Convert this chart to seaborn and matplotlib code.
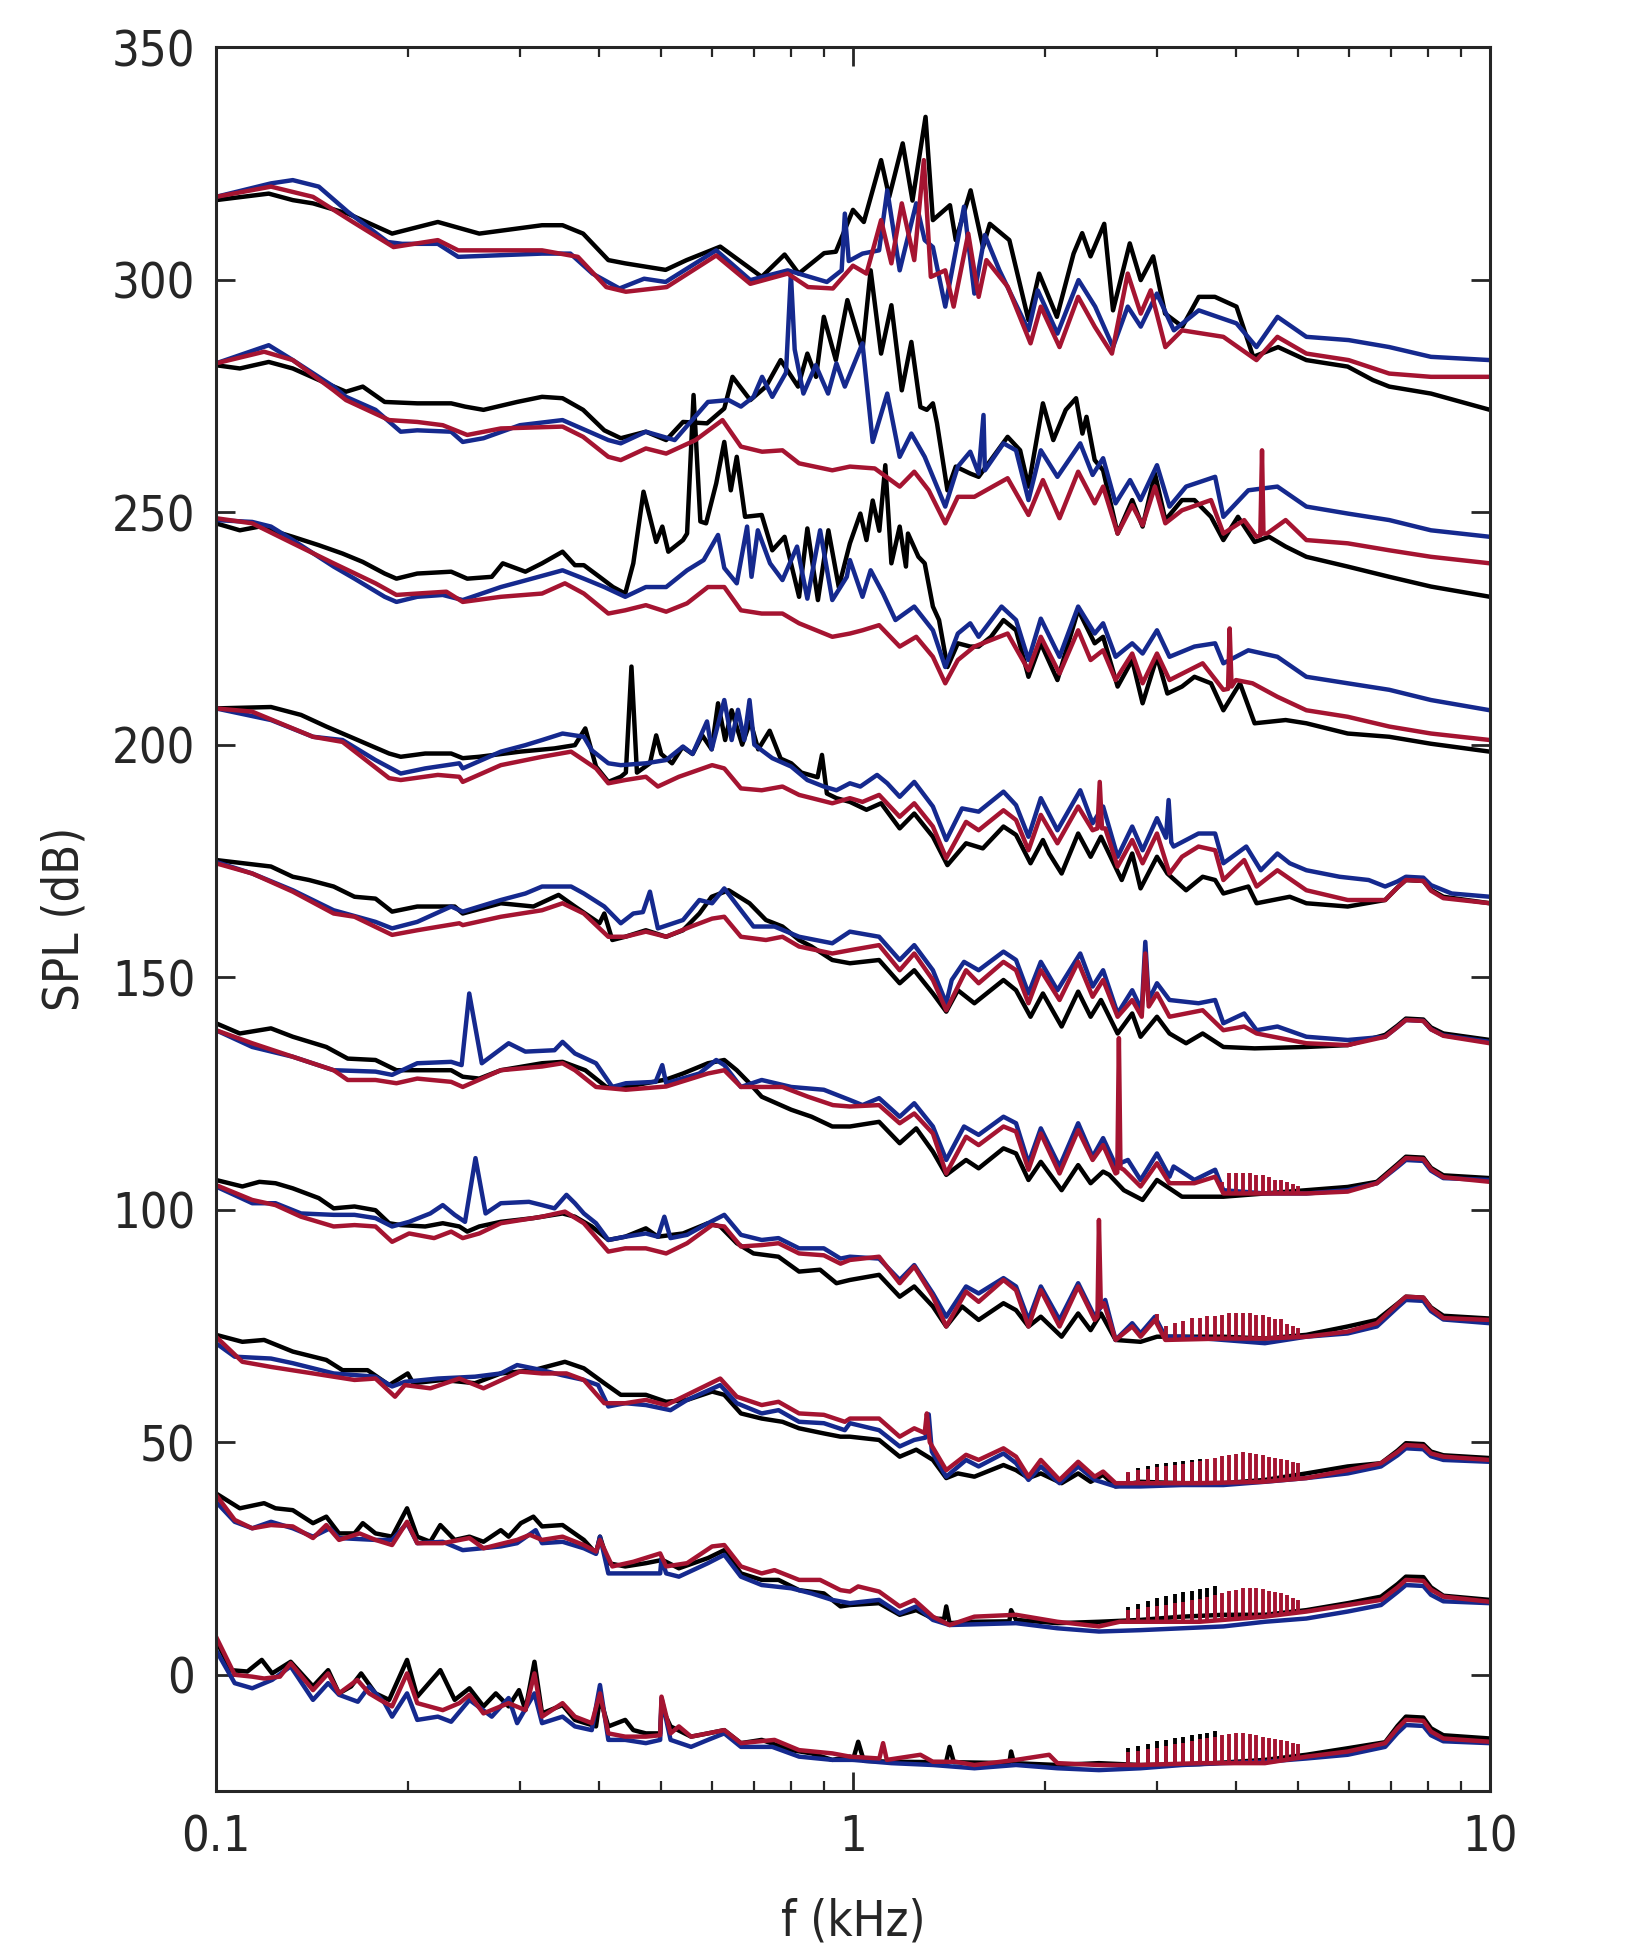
import numpy as np
import pandas as pd
import matplotlib
matplotlib.use("Agg")
import matplotlib.pyplot as plt
import seaborn as sns
from matplotlib.ticker import LogLocator, NullFormatter

# 每条曲线: (f [kHz], SPL [dB]), k=黑 b=蓝 r=红, 数字=从下往上的组号
k10 = [(0.100, 317.1), (0.121, 318.5), (0.132, 317.1), (0.142, 316.4), (0.161, 314.2), (0.189, 309.9), (0.223, 312.4),
       (0.259, 309.9), (0.325, 311.7), (0.350, 311.7), (0.377, 309.9), (0.413, 304.2), (0.439, 303.5), (0.508, 302.1),
       (0.548, 304.2), (0.619, 307.1), (0.719, 300.6), (0.781, 305.4), (0.822, 301.3), (0.901, 305.7), (0.94, 306.0),
       (1.0, 315.0), (1.04, 312.4), (1.107, 325.7), (1.14, 317.8), (1.197, 329.3), (1.24, 317.0), (1.30, 335.0),
       (1.335, 312.8), (1.42, 316.0), (1.45, 308.5), (1.53, 319.2), (1.60, 307.0), (1.64, 312.0), (1.76, 308.5),
       (1.886, 291.3), (1.96, 301.3), (2.09, 292.0), (2.22, 305.6), (2.29, 310.0), (2.36, 305.0), (2.48, 312.0),
       (2.56, 293.4), (2.72, 307.8), (2.83, 299.9), (2.96, 305.0), (3.09, 292.7), (3.29, 289.9), (3.49, 296.3),
       (3.70, 296.3), (4.0, 294.2), (4.25, 283.4), (4.65, 285.5), (5.15, 282.7), (5.98, 281.3), (6.55, 278.4),
       (6.95, 277.0), (8.08, 275.5), (10.0, 272.0)]
b10 = [(0.100, 317.8), (0.122, 320.7), (0.132, 321.4), (0.145, 320.0), (0.161, 314.6), (0.186, 308.1), (0.196, 307.7),
       (0.223, 307.7), (0.24, 304.9), (0.325, 305.6), (0.36, 305.6), (0.39, 301.3), (0.43, 298.1), (0.47, 300.2),
       (0.508, 299.5), (0.61, 306.3), (0.69, 299.9), (0.79, 302.0), (0.91, 299.5), (0.96, 302.0), (0.971, 314.2),
       (0.985, 304.0), (1.035, 305.6), (1.099, 306.3), (1.132, 319.2), (1.184, 302.0), (1.257, 316.4), (1.296, 308.5),
       (1.335, 307.0), (1.396, 294.2), (1.494, 315.7), (1.551, 297.0), (1.611, 309.6), (1.698, 302.0), (1.886, 289.1),
       (1.95, 297.7), (2.094, 288.4), (2.26, 299.9), (2.40, 294.2), (2.56, 285.5), (2.70, 294.2), (2.83, 289.9),
       (3.0, 297.0), (3.19, 289.1), (3.49, 293.4), (4.0, 290.6), (4.30, 285.5), (4.64, 292.0), (5.15, 287.7),
       (6.0, 287.0), (6.95, 285.5), (8.08, 283.4), (10.0, 282.7)]
r10 = [(0.100, 317.8), (0.122, 320.0), (0.142, 317.8), (0.164, 312.4), (0.19, 307.0), (0.223, 308.5), (0.24, 306.3),
       (0.325, 306.3), (0.37, 304.9), (0.41, 298.4), (0.44, 297.4), (0.51, 298.4), (0.61, 305.2), (0.69, 299.1),
       (0.79, 301.3), (0.85, 298.4), (0.93, 298.1), (1.0, 303.0), (1.05, 301.3), (1.107, 312.8), (1.149, 303.5),
       (1.193, 316.4), (1.248, 304.2), (1.292, 325.7), (1.325, 300.6), (1.396, 302.0), (1.439, 294.2), (1.517, 309.9),
       (1.575, 296.3), (1.62, 304.2), (1.749, 298.5), (1.90, 286.3), (1.972, 294.2), (2.11, 285.5), (2.257, 296.3),
       (2.396, 289.9), (2.55, 284.1), (2.70, 301.3), (2.83, 292.7), (2.934, 297.7), (3.093, 285.5), (3.285, 289.1),
       (3.815, 287.7), (4.30, 282.7), (4.638, 287.7), (5.15, 284.1), (6.0, 282.7), (6.95, 279.8), (8.08, 279.1),
       (10.0, 279.1)]

k9 = [(0.100, 281.6), (0.109, 280.9), (0.121, 282.3), (0.132, 280.9), (0.149, 277.7), (0.16, 275.9), (0.17, 277.0),
      (0.184, 273.7), (0.207, 273.4), (0.234, 273.4), (0.246, 272.7), (0.263, 272.0), (0.297, 273.7), (0.325, 274.8),
      (0.35, 274.5), (0.377, 272.0), (0.407, 267.6), (0.432, 265.9), (0.473, 267.3), (0.509, 265.5), (0.541, 269.4),
      (0.59, 269.1), (0.628, 272.3), (0.647, 279.1), (0.69, 274.1), (0.73, 277.0), (0.77, 282.7), (0.82, 277.0),
      (0.848, 284.1), (0.875, 279.1), (0.90, 292.0), (0.94, 282.7), (0.98, 295.6), (1.035, 284.8), (1.066, 302.0),
      (1.107, 284.1), (1.149, 294.5), (1.193, 276.2), (1.235, 286.6), (1.276, 272.6), (1.306, 272.0), (1.335, 273.4),
      (1.355, 269.1), (1.407, 254.7), (1.45, 259.8), (1.528, 258.3), (1.575, 257.6), (1.749, 266.2), (1.83, 263.3),
      (1.886, 255.5), (1.987, 273.4), (2.063, 265.5), (2.158, 272.0), (2.24, 274.5), (2.292, 266.9), (2.326, 270.5),
      (2.396, 261.2), (2.47, 259.0), (2.603, 245.4), (2.744, 252.6), (2.849, 246.9), (2.979, 258.3), (3.093, 248.3),
      (3.285, 252.6), (3.436, 252.6), (3.648, 249.0), (3.815, 244.0), (4.022, 249.0), (4.271, 243.6), (4.501, 244.7),
      (4.778, 242.6), (5.15, 240.4), (5.98, 238.3), (6.95, 236.1), (8.08, 234.0), (10.0, 231.8)]
b9 = [(0.100, 282.0), (0.121, 285.9), (0.132, 282.7), (0.153, 277.0), (0.16, 274.8), (0.178, 272.0), (0.195, 267.3),
      (0.207, 267.6), (0.234, 267.3), (0.244, 265.1), (0.263, 265.9), (0.30, 268.7), (0.35, 269.8), (0.413, 265.5),
      (0.432, 264.8), (0.473, 267.3), (0.525, 265.5), (0.592, 273.7), (0.638, 274.1), (0.667, 272.7), (0.698, 274.8),
      (0.72, 279.1), (0.747, 274.8), (0.785, 280.0), (0.799, 301.3), (0.81, 285.0), (0.836, 275.5), (0.874, 281.6),
      (0.914, 275.5), (0.942, 282.0), (0.971, 277.0), (1.035, 286.3), (1.074, 265.1), (1.132, 275.5), (1.184, 261.9),
      (1.235, 266.9), (1.296, 261.9), (1.396, 251.2), (1.461, 259.8), (1.528, 263.0), (1.575, 258.3), (1.603, 270.9),
      (1.611, 259.0), (1.723, 264.8), (1.803, 263.3), (1.886, 252.6), (1.972, 263.3), (2.094, 257.6), (2.274, 264.8),
      (2.378, 258.0), (2.47, 261.6), (2.584, 251.9), (2.723, 256.9), (2.828, 252.6), (3.001, 260.1), (3.14, 251.2),
      (3.334, 255.5), (3.703, 257.6), (3.815, 249.0), (4.175, 254.7), (4.638, 255.5), (5.15, 251.2), (5.98, 249.7),
      (6.95, 248.3), (8.08, 246.1), (10.0, 244.7)]
r9 = [(0.100, 282.0), (0.119, 284.5), (0.132, 282.7), (0.153, 276.2), (0.16, 274.1), (0.187, 269.8), (0.207, 269.4),
      (0.227, 268.7), (0.248, 266.6), (0.28, 268.0), (0.35, 268.4), (0.377, 266.2), (0.413, 261.9), (0.432, 261.2),
      (0.473, 263.7), (0.509, 262.6), (0.566, 265.5), (0.624, 269.8), (0.667, 264.1), (0.72, 263.0), (0.775, 263.3),
      (0.823, 260.5), (0.928, 259.0), (0.989, 259.8), (1.082, 259.4), (1.184, 255.5), (1.248, 258.7), (1.315, 254.7),
      (1.396, 247.6), (1.461, 253.3), (1.551, 253.3), (1.749, 257.3), (1.886, 249.4), (1.987, 256.9), (2.11, 248.7),
      (2.257, 258.7), (2.396, 251.9), (2.47, 255.5), (2.603, 245.4), (2.744, 251.5), (2.849, 247.2), (2.979, 255.5),
      (3.093, 247.6), (3.285, 250.4), (3.648, 252.6), (3.815, 245.4), (4.113, 248.3), (4.30, 244.7), (4.36, 245.0),
      (4.387, 263.3), (4.41, 245.4), (4.467, 245.4), (4.778, 248.3), (5.15, 244.0), (5.98, 243.3), (6.95, 241.8),
      (8.08, 240.4), (10.0, 239.0)]

k8 = [(0.100, 247.6), (0.109, 246.1), (0.117, 246.9), (0.132, 244.7), (0.145, 242.9), (0.158, 241.1), (0.17, 239.3),
      (0.184, 236.8), (0.192, 235.7), (0.207, 236.8), (0.234, 237.2), (0.248, 235.7), (0.271, 236.1), (0.282, 239.0),
      (0.306, 237.2), (0.325, 239.0), (0.35, 241.5), (0.366, 238.6), (0.378, 238.6), (0.40, 236.1), (0.42, 233.9),
      (0.439, 232.5), (0.452, 239.0), (0.469, 254.4), (0.491, 243.6), (0.502, 246.9), (0.513, 241.5), (0.541, 244.0),
      (0.549, 245.4), (0.562, 275.2), (0.576, 248.0), (0.588, 247.6), (0.61, 256.2), (0.628, 265.1), (0.643, 254.7),
      (0.657, 261.9), (0.677, 249.0), (0.719, 249.4), (0.747, 241.8), (0.781, 244.7), (0.823, 231.8), (0.848, 246.5),
      (0.881, 231.1), (0.915, 246.1), (0.950, 233.9), (0.989, 243.3), (1.027, 249.7), (1.05, 244.0), (1.074, 252.5),
      (1.10, 246.0), (1.124, 260.1), (1.149, 239.0), (1.184, 246.9), (1.211, 238.3), (1.22, 245.4), (1.267, 240.4),
      (1.296, 239.0), (1.335, 229.7), (1.365, 226.8), (1.407, 216.7), (1.461, 221.8), (1.528, 221.1), (1.575, 221.1),
      (1.647, 223.2), (1.723, 226.8), (1.803, 224.6), (1.886, 214.6), (1.972, 221.8), (2.094, 213.9), (2.257, 229.0),
      (2.396, 221.8), (2.47, 223.2), (2.603, 212.5), (2.744, 218.2), (2.849, 208.9), (3.001, 218.9), (3.116, 211.0),
      (3.285, 212.5), (3.436, 214.6), (3.648, 213.2), (3.815, 207.4), (4.051, 213.2), (4.271, 204.6), (4.778, 205.3),
      (5.15, 204.6), (5.98, 202.4), (6.95, 201.7), (8.08, 200.2), (10.0, 198.5)]
b8 = [(0.100, 248.3), (0.114, 247.9), (0.122, 246.9), (0.132, 244.0), (0.153, 238.3), (0.165, 235.7), (0.184, 231.8),
      (0.192, 230.7), (0.207, 231.8), (0.227, 232.2), (0.244, 231.1), (0.28, 233.9), (0.30, 235.0), (0.35, 237.5),
      (0.378, 235.7), (0.407, 233.9), (0.439, 231.8), (0.473, 233.9), (0.509, 233.9), (0.549, 237.5), (0.583, 239.7),
      (0.614, 245.1), (0.628, 238.0), (0.657, 234.7), (0.682, 246.9), (0.693, 236.1), (0.709, 246.1), (0.741, 239.0),
      (0.775, 235.4), (0.817, 242.6), (0.848, 231.4), (0.888, 246.1), (0.928, 231.1), (0.978, 236.1), (0.989, 239.7),
      (1.035, 231.8), (1.066, 237.5), (1.115, 232.5), (1.166, 226.8), (1.248, 229.7), (1.335, 224.6), (1.396, 216.7),
      (1.461, 223.9), (1.528, 226.1), (1.575, 223.2), (1.711, 229.7), (1.803, 226.8), (1.886, 218.2), (1.972, 227.1),
      (2.11, 218.9), (2.257, 229.7), (2.396, 223.9), (2.47, 226.1), (2.584, 218.9), (2.744, 221.8), (2.849, 219.6),
      (3.001, 224.6), (3.14, 218.9), (3.436, 221.1), (3.703, 221.8), (3.815, 217.5), (4.175, 220.3), (4.638, 218.9),
      (5.15, 214.6), (5.98, 213.2), (6.95, 211.8), (8.08, 209.6), (10.0, 207.4)]
r8 = [(0.100, 248.7), (0.114, 247.6), (0.132, 243.3), (0.153, 239.0), (0.178, 234.7), (0.192, 232.2), (0.207, 232.5),
      (0.23, 232.9), (0.244, 230.7), (0.28, 231.8), (0.325, 232.5), (0.353, 234.7), (0.378, 232.5), (0.413, 228.2),
      (0.439, 228.9), (0.473, 230.0), (0.509, 228.6), (0.549, 230.4), (0.592, 233.9), (0.628, 233.9), (0.667, 228.9),
      (0.719, 228.2), (0.775, 228.2), (0.823, 226.1), (0.928, 223.2), (0.989, 223.9), (1.035, 224.6), (1.099, 225.7),
      (1.184, 221.1), (1.257, 223.2), (1.335, 218.9), (1.396, 213.2), (1.461, 218.2), (1.551, 221.1), (1.749, 223.9),
      (1.886, 216.0), (1.972, 223.2), (2.11, 215.3), (2.257, 224.6), (2.361, 218.2), (2.47, 220.3), (2.584, 213.9),
      (2.744, 219.6), (2.849, 213.2), (3.001, 219.6), (3.14, 213.9), (3.54, 217.5), (3.815, 211.8), (3.88, 212.0),
      (3.903, 225.0), (3.93, 212.5), (3.992, 213.9), (4.239, 213.2), (4.638, 210.3), (5.15, 207.4), (5.98, 206.0),
      (6.95, 203.9), (8.08, 202.4), (10.0, 201.0)]

k7 = [(0.100, 207.8), (0.122, 208.1), (0.136, 206.4), (0.149, 203.9), (0.165, 201.3), (0.187, 198.1), (0.195, 197.4),
      (0.213, 198.1), (0.234, 198.1), (0.244, 197.1), (0.259, 197.4), (0.30, 198.5), (0.34, 199.2), (0.366, 199.9),
      (0.38, 203.5), (0.395, 195.3), (0.413, 192.0), (0.432, 193.1), (0.44, 194.0), (0.449, 216.8), (0.458, 194.0),
      (0.48, 196.0), (0.491, 202.0), (0.50, 198.0), (0.52, 196.0), (0.54, 199.5), (0.56, 198.0), (0.58, 202.0),
      (0.60, 199.0), (0.614, 208.9), (0.63, 201.0), (0.645, 207.4), (0.67, 200.0), (0.69, 205.0), (0.71, 199.0),
      (0.74, 203.0), (0.77, 197.0), (0.80, 196.0), (0.83, 194.0), (0.88, 193.0), (0.894, 197.8), (0.91, 189.5),
      (0.942, 188.5), (0.989, 187.7), (1.05, 186.0), (1.107, 187.4), (1.184, 182.0), (1.248, 185.2), (1.335, 180.2),
      (1.407, 174.1), (1.505, 178.8), (1.599, 177.7), (1.723, 182.4), (1.803, 180.6), (1.90, 174.5), (1.987, 179.5),
      (2.032, 176.6), (2.126, 172.3), (2.257, 180.9), (2.361, 175.9), (2.451, 180.2), (2.642, 170.9), (2.744, 176.6),
      (2.828, 169.1), (3.001, 175.9), (3.116, 172.3), (3.334, 168.7), (3.54, 171.6), (3.703, 170.9), (3.815, 168.0),
      (4.175, 169.5), (4.302, 165.9), (4.85, 167.3), (5.15, 165.9), (5.98, 165.2), (6.847, 166.6), (7.16, 169.3),
      (7.38, 170.9), (7.86, 170.7), (8.08, 168.8), (8.45, 167.3), (10.0, 165.9)]
b7 = [(0.100, 207.8), (0.122, 205.3), (0.142, 201.7), (0.158, 201.0), (0.178, 196.7), (0.195, 193.8), (0.213, 194.9),
      (0.241, 196.0), (0.244, 194.9), (0.28, 198.5), (0.306, 199.9), (0.325, 201.0), (0.35, 202.4), (0.378, 201.7),
      (0.389, 198.8), (0.413, 196.0), (0.432, 195.6), (0.473, 196.0), (0.509, 196.7), (0.541, 199.6), (0.56, 198.0),
      (0.59, 205.0), (0.60, 199.0), (0.628, 209.6), (0.645, 201.0), (0.66, 207.5), (0.675, 201.0), (0.688, 209.6),
      (0.70, 200.0), (0.719, 198.8), (0.747, 197.1), (0.80, 195.3), (0.848, 192.4), (0.90, 191.0), (0.942, 190.2),
      (0.989, 191.7), (1.027, 191.0), (1.091, 193.5), (1.132, 191.7), (1.184, 188.8), (1.248, 192.0), (1.335, 186.7),
      (1.401, 179.5), (1.483, 186.3), (1.575, 185.6), (1.723, 189.9), (1.803, 187.0), (1.886, 180.2), (1.972, 188.5),
      (2.094, 181.6), (2.274, 190.2), (2.378, 183.1), (2.47, 186.7), (2.603, 175.9), (2.744, 182.4), (2.849, 177.3),
      (3.001, 184.2), (3.10, 180.0), (3.13, 188.1), (3.16, 179.0), (3.187, 178.1), (3.487, 180.9), (3.703, 180.9),
      (3.815, 174.5), (4.144, 178.1), (4.368, 173.0), (4.638, 176.6), (4.85, 174.5), (5.15, 173.0), (5.806, 171.6),
      (6.45, 170.9), (6.847, 169.5), (7.16, 170.6), (7.38, 171.6), (7.86, 171.4), (8.08, 169.8), (8.708, 168.0),
      (10.0, 167.3)]
r7 = [(0.100, 207.8), (0.114, 207.1), (0.142, 201.7), (0.158, 200.6), (0.187, 192.8), (0.195, 192.4), (0.223, 193.5),
      (0.241, 193.1), (0.244, 192.0), (0.28, 195.6), (0.325, 197.4), (0.361, 198.5), (0.395, 194.9), (0.413, 191.7),
      (0.439, 192.4), (0.473, 193.1), (0.494, 191.0), (0.533, 193.1), (0.601, 195.6), (0.628, 194.9), (0.667, 190.6),
      (0.719, 190.2), (0.775, 191.0), (0.823, 189.2), (0.928, 187.4), (0.989, 188.5), (1.035, 187.7), (1.099, 189.2),
      (1.184, 184.5), (1.248, 187.4), (1.335, 182.4), (1.401, 175.6), (1.505, 183.4), (1.575, 181.6), (1.723, 185.9),
      (1.803, 183.8), (1.886, 177.3), (1.972, 184.9), (2.094, 178.8), (2.257, 186.7), (2.378, 181.6), (2.42, 182.0),
      (2.44, 192.0), (2.46, 182.0), (2.489, 182.0), (2.603, 173.8), (2.744, 179.5), (2.849, 174.5), (3.001, 180.9),
      (3.14, 172.3), (3.285, 175.9), (3.487, 178.1), (3.703, 177.3), (3.815, 170.9), (4.113, 175.2), (4.302, 169.5),
      (4.638, 173.0), (5.15, 168.7), (5.98, 166.6), (6.847, 166.6), (7.16, 169.3), (7.38, 170.9), (7.86, 170.7),
      (8.08, 168.6), (8.45, 167.0), (10.0, 165.9)]

k6 = [(0.100, 175.2), (0.122, 173.8), (0.132, 171.6), (0.14, 170.9), (0.153, 169.5), (0.165, 167.3), (0.178, 166.9),
      (0.189, 164.1), (0.207, 165.2), (0.237, 165.2), (0.244, 163.7), (0.28, 165.9), (0.315, 165.2), (0.345, 167.7),
      (0.366, 165.2), (0.40, 161.6), (0.407, 163.7), (0.419, 158.0), (0.439, 158.7), (0.473, 160.1), (0.509, 158.7),
      (0.541, 160.1), (0.574, 163.7), (0.60, 167.3), (0.638, 168.7), (0.688, 165.9), (0.73, 162.3), (0.775, 160.9),
      (0.823, 158.0), (0.861, 156.6), (0.928, 153.7), (0.989, 153.0), (1.099, 153.7), (1.184, 148.7), (1.248, 151.5),
      (1.335, 146.5), (1.401, 142.6), (1.461, 147.2), (1.551, 144.4), (1.723, 149.4), (1.803, 147.2), (1.90, 141.5),
      (1.987, 146.5), (2.126, 139.4), (2.257, 146.9), (2.361, 141.5), (2.451, 145.1), (2.603, 137.9), (2.744, 142.2),
      (2.828, 137.2), (3.001, 141.5), (3.14, 137.9), (3.334, 135.8), (3.54, 137.9), (3.815, 135.0), (4.271, 134.7),
      (5.15, 135.0), (5.98, 135.4), (6.847, 137.6), (7.16, 139.6), (7.38, 141.1), (7.86, 140.9), (8.08, 139.2),
      (8.45, 137.9), (10.0, 136.5)]
b6 = [(0.100, 174.8), (0.114, 172.3), (0.132, 168.7), (0.153, 164.4), (0.178, 161.9), (0.189, 160.5), (0.207, 161.9),
      (0.234, 165.2), (0.244, 164.1), (0.28, 166.6), (0.306, 168.0), (0.325, 169.5), (0.361, 169.5), (0.378, 168.0),
      (0.407, 165.2), (0.432, 161.6), (0.452, 163.7), (0.468, 164.0), (0.48, 168.4), (0.494, 160.5), (0.541, 162.3),
      (0.574, 166.6), (0.601, 165.9), (0.628, 169.1), (0.667, 164.4), (0.698, 160.9), (0.753, 160.9), (0.823, 158.7),
      (0.928, 157.3), (0.989, 159.8), (1.099, 158.7), (1.184, 153.7), (1.248, 156.9), (1.335, 151.5), (1.401, 144.4),
      (1.429, 149.4), (1.494, 153.3), (1.575, 151.5), (1.723, 155.5), (1.803, 153.7), (1.886, 146.5), (1.972, 153.3),
      (2.094, 147.2), (2.274, 155.1), (2.378, 148.0), (2.47, 151.5), (2.603, 142.2), (2.744, 147.2), (2.84, 142.9),
      (2.877, 157.6), (2.913, 145.1), (3.001, 148.7), (3.14, 145.1), (3.487, 144.4), (3.703, 145.1), (3.815, 140.1),
      (4.113, 142.2), (4.302, 138.6), (4.638, 139.4), (5.15, 137.2), (5.98, 136.5), (6.847, 137.2), (7.16, 139.3),
      (7.38, 140.8), (7.86, 140.6), (8.08, 138.8), (8.45, 137.5), (10.0, 136.1)]
r6 = [(0.100, 174.5), (0.114, 172.3), (0.132, 168.4), (0.153, 163.7), (0.165, 163.0), (0.189, 159.1), (0.207, 160.1),
      (0.241, 161.6), (0.244, 161.2), (0.28, 163.0), (0.325, 164.4), (0.35, 165.9), (0.378, 163.7), (0.413, 158.7),
      (0.439, 158.7), (0.473, 159.8), (0.509, 158.7), (0.557, 160.9), (0.601, 162.6), (0.628, 163.0), (0.667, 158.7),
      (0.73, 158.0), (0.775, 158.7), (0.823, 156.6), (0.928, 155.1), (0.989, 155.8), (1.099, 156.9), (1.184, 151.5),
      (1.248, 155.1), (1.335, 149.4), (1.401, 142.9), (1.505, 151.5), (1.575, 148.7), (1.723, 153.3), (1.803, 151.5),
      (1.886, 144.4), (1.972, 151.5), (2.11, 145.1), (2.257, 153.3), (2.378, 145.8), (2.47, 149.4), (2.603, 141.5),
      (2.744, 145.1), (2.84, 141.5), (2.877, 155.1), (2.913, 143.7), (3.001, 146.5), (3.14, 141.5), (3.54, 142.9),
      (3.815, 138.6), (4.113, 139.4), (4.302, 137.9), (5.15, 135.8), (5.98, 135.4), (6.847, 137.2), (7.16, 139.3),
      (7.38, 140.8), (7.86, 140.6), (8.08, 138.8), (8.45, 137.4), (10.0, 135.8)]

k5 = [(0.100, 140.1), (0.109, 137.9), (0.122, 139.0), (0.132, 137.2), (0.149, 135.0), (0.161, 132.5), (0.178, 132.2),
      (0.192, 130.0), (0.207, 130.0), (0.234, 130.0), (0.244, 128.6), (0.259, 128.2), (0.28, 130.0), (0.325, 131.5),
      (0.35, 131.8), (0.38, 130.0), (0.41, 126.4), (0.44, 126.4), (0.473, 127.2), (0.509, 128.0), (0.541, 129.3),
      (0.592, 131.5), (0.628, 132.2), (0.657, 130.0), (0.688, 127.2), (0.719, 124.3), (0.80, 121.5), (0.861, 120.0),
      (0.928, 117.9), (0.989, 117.9), (1.099, 118.9), (1.184, 114.3), (1.257, 117.5), (1.335, 112.5), (1.401, 107.5),
      (1.505, 110.7), (1.575, 108.9), (1.723, 113.2), (1.803, 112.1), (1.886, 106.4), (1.972, 110.3), (2.126, 104.2),
      (2.257, 109.6), (2.361, 105.7), (2.47, 108.2), (2.526, 107.5), (2.662, 104.2), (2.849, 102.1), (3.001, 106.4),
      (3.285, 102.8), (3.815, 102.8), (4.433, 103.5), (5.15, 104.2), (5.98, 104.9), (6.645, 106.0), (7.16, 109.8),
      (7.38, 111.4), (7.86, 111.2), (8.08, 109.0), (8.45, 107.4), (10.0, 106.8)]
b5 = [(0.100, 138.6), (0.114, 135.0), (0.132, 132.9), (0.153, 130.0), (0.178, 129.7), (0.189, 129.0), (0.207, 131.5),
      (0.234, 131.8), (0.243, 131.1), (0.2498, 146.5), (0.2614, 131.5), (0.288, 135.8), (0.306, 134.0), (0.34, 134.3),
      (0.35, 136.1), (0.366, 133.6), (0.395, 131.5), (0.419, 126.4), (0.44, 127.2), (0.49, 127.5), (0.5019, 131.1),
      (0.509, 127.2), (0.574, 129.3), (0.61, 132.2), (0.628, 131.1), (0.667, 126.4), (0.719, 127.9), (0.80, 126.4),
      (0.90, 125.8), (0.989, 123.6), (1.035, 122.5), (1.099, 124.0), (1.184, 120.0), (1.248, 122.9), (1.335, 117.9),
      (1.401, 110.7), (1.494, 117.9), (1.575, 116.1), (1.723, 120.0), (1.803, 118.6), (1.886, 110.0), (1.972, 117.5),
      (2.11, 109.3), (2.257, 118.6), (2.378, 111.4), (2.47, 115.4), (2.584, 109.6), (2.702, 110.7), (2.828, 106.4),
      (3.001, 112.1), (3.14, 107.1), (3.187, 109.3), (3.436, 106.4), (3.703, 108.6), (3.815, 104.2), (4.433, 103.5),
      (5.15, 103.5), (5.98, 104.2), (6.645, 105.7), (7.16, 109.2), (7.38, 110.7), (7.86, 110.5), (8.08, 108.4),
      (8.45, 106.8), (10.0, 106.4)]
r5 = [(0.100, 138.6), (0.114, 135.8), (0.132, 132.9), (0.153, 130.0), (0.161, 127.9), (0.178, 127.9), (0.192, 127.2),
      (0.207, 128.2), (0.234, 127.5), (0.244, 126.4), (0.28, 130.0), (0.325, 130.8), (0.35, 131.5), (0.366, 130.0),
      (0.395, 126.4), (0.44, 125.8), (0.509, 126.5), (0.592, 129.3), (0.628, 130.0), (0.667, 126.4), (0.775, 126.4),
      (0.85, 124.3), (0.93, 122.5), (0.989, 122.2), (1.099, 122.5), (1.184, 118.6), (1.248, 120.7), (1.335, 116.4),
      (1.401, 107.8), (1.505, 115.7), (1.575, 113.9), (1.723, 117.9), (1.803, 116.8), (1.886, 108.6), (1.972, 116.4),
      (2.11, 107.8), (2.257, 117.1), (2.378, 110.7), (2.47, 113.9), (2.584, 107.8), (2.60, 108.0), (2.615, 136.9),
      (2.63, 109.0), (2.662, 108.6), (2.828, 105.0), (3.001, 110.0), (3.14, 105.7), (3.436, 105.7), (3.703, 107.1),
      (3.815, 103.5), (5.15, 103.5), (5.98, 103.9), (6.645, 105.7), (7.16, 109.5), (7.38, 111.1), (7.86, 110.9),
      (8.08, 108.7), (8.45, 107.0), (10.0, 106.0)]

k4 = [(0.100, 106.4), (0.110, 105.0), (0.117, 106.0), (0.124, 105.7), (0.132, 104.6), (0.145, 102.5), (0.153, 100.3),
      (0.165, 100.7), (0.178, 99.9), (0.187, 97.1), (0.195, 96.7), (0.213, 96.4), (0.227, 97.1), (0.241, 96.4),
      (0.248, 95.3), (0.259, 96.4), (0.28, 97.4), (0.315, 98.2), (0.35, 99.2), (0.366, 98.5), (0.389, 96.4),
      (0.413, 93.5), (0.439, 94.2), (0.473, 96.0), (0.494, 94.2), (0.541, 94.9), (0.592, 97.1), (0.619, 96.4),
      (0.657, 92.8), (0.698, 90.6), (0.764, 89.9), (0.823, 86.7), (0.888, 87.1), (0.942, 84.2), (0.989, 84.9),
      (1.099, 86.0), (1.184, 81.3), (1.248, 83.5), (1.335, 79.2), (1.401, 74.9), (1.483, 79.2), (1.575, 76.3),
      (1.723, 79.9), (1.803, 78.4), (1.886, 74.9), (1.972, 77.0), (2.126, 72.7), (2.257, 77.7), (2.361, 74.1),
      (2.451, 77.7), (2.584, 72.0), (2.828, 71.6), (3.001, 72.7), (3.815, 72.7), (4.433, 72.3), (5.15, 73.1),
      (5.98, 74.9), (6.645, 76.3), (7.16, 79.8), (7.38, 81.3), (7.86, 81.1), (8.08, 79.0), (8.45, 77.2), (10.0, 76.6)]
b4 = [(0.100, 105.0), (0.114, 101.4), (0.124, 101.4), (0.136, 99.2), (0.153, 98.9), (0.165, 98.9), (0.178, 98.2),
      (0.189, 96.4), (0.201, 97.4), (0.217, 99.2), (0.227, 101.0), (0.237, 98.9), (0.246, 97.4), (0.2555, 111.1),
      (0.265, 99.2), (0.28, 101.4), (0.31, 101.7), (0.325, 101.0), (0.34, 100.3), (0.355, 103.2), (0.366, 101.4),
      (0.378, 99.2), (0.395, 97.1), (0.413, 93.5), (0.439, 94.2), (0.473, 94.9), (0.494, 94.2), (0.5057, 98.5),
      (0.517, 93.9), (0.549, 94.6), (0.592, 97.1), (0.628, 98.9), (0.667, 94.6), (0.719, 93.5), (0.764, 93.9),
      (0.823, 91.7), (0.90, 91.7), (0.956, 89.5), (0.989, 89.9), (1.099, 89.5), (1.184, 84.9), (1.248, 88.1),
      (1.335, 82.0), (1.401, 77.0), (1.505, 83.5), (1.575, 82.0), (1.723, 85.3), (1.803, 83.5), (1.886, 76.3),
      (1.972, 83.5), (2.11, 76.3), (2.257, 84.2), (2.396, 77.0), (2.489, 80.6), (2.584, 72.0), (2.744, 75.6),
      (2.828, 73.4), (2.979, 77.0), (3.093, 72.7), (3.285, 72.7), (3.815, 72.0), (4.433, 71.3), (5.15, 72.7),
      (5.98, 73.4), (6.645, 74.9), (7.16, 79.0), (7.38, 80.6), (7.86, 80.4), (8.08, 78.2), (8.45, 76.4), (10.0, 75.6)]
r4 = [(0.100, 105.3), (0.114, 102.1), (0.124, 101.0), (0.136, 98.5), (0.153, 96.4), (0.165, 96.7), (0.178, 96.4),
      (0.189, 93.1), (0.201, 94.9), (0.22, 93.9), (0.234, 95.3), (0.244, 93.9), (0.259, 94.9), (0.28, 97.1),
      (0.325, 98.5), (0.353, 99.6), (0.378, 97.1), (0.413, 91.0), (0.439, 91.7), (0.473, 91.7), (0.509, 90.6),
      (0.549, 92.8), (0.601, 96.7), (0.628, 96.4), (0.667, 92.1), (0.719, 92.4), (0.764, 92.8), (0.823, 90.6),
      (0.90, 90.2), (0.956, 88.4), (0.989, 89.2), (1.099, 89.9), (1.184, 84.2), (1.248, 87.8), (1.335, 81.3),
      (1.401, 74.9), (1.505, 82.4), (1.575, 80.2), (1.723, 84.9), (1.803, 82.7), (1.886, 74.9), (1.972, 82.7),
      (2.11, 74.9), (2.257, 83.5), (2.396, 76.3), (2.42, 77.0), (2.433, 97.8), (2.45, 79.0), (2.477, 79.9),
      (2.584, 72.0), (2.744, 74.9), (2.828, 72.7), (2.979, 76.3), (3.093, 72.0), (3.815, 72.3), (4.433, 72.3),
      (5.15, 72.7), (5.98, 73.8), (6.645, 75.6), (7.16, 79.7), (7.38, 81.3), (7.86, 81.1), (8.08, 78.8),
      (8.45, 76.7), (10.0, 76.3)]

k3 = [(0.100, 73.1), (0.110, 71.6), (0.119, 72.0), (0.132, 69.5), (0.149, 67.7), (0.158, 65.5), (0.173, 65.5),
      (0.187, 62.3), (0.2, 64.8), (0.204, 62.7), (0.227, 63.4), (0.255, 62.7), (0.28, 64.8), (0.315, 65.5),
      (0.353, 67.3), (0.378, 65.9), (0.407, 62.7), (0.432, 60.2), (0.473, 60.2), (0.509, 58.7), (0.549, 59.1),
      (0.601, 60.9), (0.628, 60.2), (0.667, 56.2), (0.719, 55.1), (0.775, 54.4), (0.823, 53.0), (0.90, 51.9),
      (0.956, 51.2), (0.989, 51.2), (1.099, 50.5), (1.184, 46.9), (1.257, 48.4), (1.335, 46.2), (1.401, 42.3),
      (1.461, 43.3), (1.551, 42.6), (1.723, 45.1), (1.803, 44.0), (1.886, 42.3), (1.972, 43.3), (2.126, 41.2),
      (2.257, 43.3), (2.361, 41.5), (2.47, 43.0), (2.584, 40.5), (2.828, 41.5), (3.285, 41.2), (3.815, 41.2),
      (4.433, 41.9), (5.15, 43.3), (5.98, 44.8), (6.745, 45.5), (7.16, 48.2), (7.38, 49.8), (7.86, 49.6),
      (8.08, 48.0), (8.45, 47.2), (10.0, 46.6)]
b3 = [(0.100, 71.3), (0.107, 68.4), (0.122, 68.0), (0.132, 67.0), (0.153, 64.8), (0.178, 64.1), (0.189, 62.0),
      (0.198, 63.0), (0.223, 63.7), (0.255, 64.1), (0.28, 64.8), (0.297, 66.6), (0.325, 65.5), (0.35, 64.4),
      (0.378, 63.4), (0.398, 62.3), (0.413, 57.7), (0.439, 58.4), (0.473, 58.0), (0.517, 56.9), (0.549, 59.1),
      (0.619, 62.3), (0.657, 58.4), (0.719, 56.2), (0.764, 56.9), (0.823, 54.4), (0.90, 54.1), (0.971, 52.6),
      (0.989, 54.1), (1.099, 52.6), (1.184, 49.1), (1.248, 50.5), (1.30, 51.0), (1.315, 56.0), (1.33, 48.0),
      (1.401, 42.6), (1.505, 46.2), (1.575, 44.8), (1.723, 47.6), (1.803, 45.5), (1.886, 41.9), (1.972, 44.8),
      (2.11, 41.2), (2.257, 44.8), (2.396, 41.9), (2.584, 40.5), (2.828, 40.5), (3.285, 40.8), (3.815, 40.8),
      (4.433, 41.5), (5.15, 42.3), (5.98, 43.3), (6.745, 44.8), (7.16, 47.2), (7.38, 48.7), (7.86, 48.5),
      (8.08, 47.0), (8.45, 46.2), (10.0, 45.8)]
r3 = [(0.100, 72.7), (0.110, 67.3), (0.122, 66.2), (0.142, 64.8), (0.153, 64.1), (0.165, 63.4), (0.178, 63.7),
      (0.191, 59.8), (0.198, 62.3), (0.217, 61.6), (0.241, 63.7), (0.263, 61.6), (0.30, 65.2), (0.325, 64.8),
      (0.355, 64.8), (0.378, 63.4), (0.407, 58.4), (0.439, 58.4), (0.473, 59.1), (0.509, 58.0), (0.549, 60.2),
      (0.619, 63.7), (0.657, 59.8), (0.719, 58.0), (0.764, 58.7), (0.823, 56.2), (0.90, 55.9), (0.971, 54.4),
      (0.989, 55.1), (1.099, 55.1), (1.184, 51.2), (1.248, 53.0), (1.296, 52.0), (1.306, 56.2), (1.32, 50.0),
      (1.401, 44.0), (1.505, 47.3), (1.575, 46.2), (1.723, 48.7), (1.803, 46.9), (1.886, 42.6), (1.972, 46.2),
      (2.11, 41.9), (2.257, 45.8), (2.396, 42.6), (2.47, 43.7), (2.584, 41.2), (3.5, 41.2), (4.4, 41.5),
      (5.15, 42.3), (5.98, 44.0), (6.745, 45.5), (7.16, 47.9), (7.38, 49.4), (7.86, 49.2), (8.08, 47.6),
      (8.45, 46.9), (10.0, 46.2)]

k2 = [(0.100, 39.0), (0.109, 35.8), (0.119, 36.9), (0.124, 35.8), (0.132, 35.4), (0.142, 32.6), (0.149, 34.0),
      (0.156, 30.4), (0.165, 30.4), (0.17, 32.6), (0.178, 30.4), (0.189, 29.7), (0.1995, 35.8), (0.207, 29.7),
      (0.217, 28.6), (0.225, 32.2), (0.237, 29.0), (0.25, 29.7), (0.263, 28.6), (0.28, 31.1), (0.288, 29.7),
      (0.301, 32.6), (0.315, 34.0), (0.325, 31.9), (0.35, 32.2), (0.378, 29.0), (0.395, 26.1), (0.4007, 29.7),
      (0.413, 24.0), (0.439, 23.3), (0.473, 24.0), (0.502, 24.7), (0.533, 22.9), (0.592, 25.1), (0.628, 26.8),
      (0.667, 21.8), (0.719, 20.4), (0.764, 20.4), (0.823, 18.2), (0.90, 17.5), (0.956, 14.7), (0.989, 15.0),
      (1.099, 15.4), (1.184, 12.9), (1.257, 13.9), (1.335, 12.1), (1.39, 12.0), (1.401, 14.7), (1.418, 11.1),
      (1.551, 11.4), (1.76, 11.5), (1.771, 13.9), (1.803, 11.8), (2.094, 11.1), (2.433, 11.4), (2.828, 11.8),
      (3.285, 12.5), (3.815, 12.9), (4.433, 12.9), (5.15, 13.9), (5.98, 15.4), (6.745, 16.8), (7.16, 19.5),
      (7.38, 21.1), (7.86, 21.0), (8.08, 18.8), (8.45, 17.0), (10.0, 16.1)]
b2 = [(0.100, 37.2), (0.107, 32.9), (0.114, 31.5), (0.122, 32.9), (0.132, 31.5), (0.142, 29.7), (0.151, 31.5),
      (0.156, 29.4), (0.178, 29.0), (0.189, 29.0), (0.1995, 32.6), (0.207, 28.3), (0.227, 28.6), (0.244, 26.8),
      (0.28, 27.6), (0.297, 28.3), (0.3176, 31.1), (0.325, 28.3), (0.35, 28.6), (0.378, 27.2), (0.395, 26.0),
      (0.4007, 29.7), (0.413, 21.8), (0.439, 21.8), (0.4981, 21.8), (0.5005, 25.0), (0.509, 21.8), (0.533, 21.1),
      (0.592, 24.0), (0.628, 25.8), (0.667, 21.1), (0.719, 19.3), (0.80, 18.6), (0.861, 17.5), (0.928, 16.1),
      (0.989, 15.4), (1.099, 16.1), (1.184, 13.2), (1.257, 14.7), (1.335, 11.8), (1.418, 10.7), (1.803, 11.1),
      (2.094, 10.0), (2.433, 9.3), (2.828, 9.6), (3.285, 10.0), (3.815, 10.4), (4.433, 11.4), (5.15, 12.1),
      (5.98, 13.6), (6.745, 15.0), (7.16, 17.8), (7.38, 19.3), (7.86, 19.1), (8.08, 17.2), (8.45, 15.8),
      (10.0, 15.4)]
r2 = [(0.100, 38.7), (0.107, 33.3), (0.114, 31.5), (0.122, 32.2), (0.132, 31.9), (0.142, 29.4), (0.149, 32.2),
      (0.156, 29.0), (0.168, 30.4), (0.178, 29.0), (0.189, 27.9), (0.1995, 32.9), (0.207, 28.3), (0.227, 28.3),
      (0.25, 29.4), (0.263, 27.2), (0.297, 29.0), (0.311, 30.1), (0.325, 29.0), (0.35, 29.7), (0.378, 27.9),
      (0.395, 26.5), (0.4007, 29.0), (0.419, 23.3), (0.452, 24.3), (0.4981, 26.1), (0.509, 23.3), (0.549, 24.0),
      (0.601, 27.6), (0.628, 27.9), (0.667, 23.3), (0.719, 21.8), (0.753, 22.5), (0.823, 20.4), (0.888, 20.4),
      (0.956, 18.2), (0.989, 17.9), (1.019, 19.0), (1.099, 17.9), (1.184, 14.7), (1.248, 16.1), (1.335, 12.5),
      (1.418, 10.7), (1.551, 12.5), (1.803, 12.9), (2.094, 11.4), (2.433, 10.4), (2.623, 11.4), (3.5, 11.4),
      (4.433, 12.5), (5.15, 13.6), (5.98, 15.0), (6.745, 16.1), (7.16, 18.8), (7.38, 20.4), (7.86, 20.2),
      (8.08, 18.3), (8.45, 16.8), (10.0, 15.7)]

k1 = [(0.100, 7.5), (0.1055, 1.0), (0.112, 0.7), (0.118, 3.2), (0.1225, 0.3), (0.131, 2.8), (0.142, -2.5),
      (0.150, 1.0), (0.156, -4.0), (0.163, -2.5), (0.169, 0.3), (0.178, -4.0), (0.187, -5.4), (0.1995, 3.2),
      (0.207, -4.7), (0.225, 1.0), (0.237, -5.4), (0.25, -2.9), (0.263, -6.8), (0.275, -4.0), (0.288, -6.8),
      (0.299, -3.3), (0.306, -7.6), (0.3162, 2.8), (0.325, -8.3), (0.35, -6.5), (0.366, -9.7), (0.395, -11.1),
      (0.4007, -5.0), (0.413, -11.1), (0.439, -9.7), (0.452, -11.9), (0.473, -12.6), (0.4981, -12.6),
      (0.5005, -7.0), (0.5172, -11.1), (0.557, -13.3), (0.592, -12.6), (0.628, -11.9), (0.667, -14.7),
      (0.719, -14.0), (0.80, -16.2), (0.861, -16.9), (0.928, -18.3), (0.989, -17.6), (1.0, -18.3), (1.019, -14.4),
      (1.04, -18.5), (1.149, -18.7), (1.40, -18.8), (1.418, -15.5), (1.44, -18.8), (1.76, -19.0), (1.771, -16.5),
      (1.79, -19.0), (2.094, -19.4), (2.433, -19.0), (2.828, -19.4), (3.5, -19.2), (4.433, -18.3), (5.15, -17.2),
      (5.98, -15.8), (6.847, -14.5), (7.16, -11.0), (7.38, -9.0), (7.86, -9.2), (8.08, -11.5), (8.45, -13.0),
      (10.0, -13.7)]
b1 = [(0.100, 5.3), (0.107, -1.8), (0.114, -2.9), (0.1225, -1.1), (0.131, 1.8), (0.142, -5.4), (0.150, -1.8),
      (0.156, -4.3), (0.167, -5.8), (0.174, -2.5), (0.184, -6.1), (0.189, -9.0), (0.1995, -4.0), (0.207, -9.7),
      (0.223, -9.0), (0.234, -10.1), (0.25, -5.4), (0.271, -9.0), (0.288, -5.0), (0.297, -10.4), (0.3162, -4.0),
      (0.325, -10.4), (0.35, -9.0), (0.366, -11.1), (0.389, -11.9), (0.4007, -2.2), (0.413, -14.0), (0.439, -14.0),
      (0.473, -14.7), (0.4981, -14.0), (0.5005, -5.0), (0.5172, -14.0), (0.557, -15.5), (0.592, -14.0),
      (0.628, -12.6), (0.667, -15.5), (0.747, -15.5), (0.823, -17.6), (0.928, -18.3), (1.0, -18.3), (1.149, -19.0),
      (1.335, -19.4), (1.551, -20.1), (1.803, -19.4), (2.094, -20.1), (2.433, -20.5), (2.828, -20.1),
      (3.285, -19.4), (3.815, -19.0), (4.433, -18.7), (5.15, -18.0), (5.98, -17.2), (6.847, -15.5), (7.16, -12.5),
      (7.38, -10.8), (7.86, -11.0), (8.08, -13.0), (8.45, -14.3), (10.0, -14.7)]
r1 = [(0.100, 8.2), (0.107, 0.0), (0.114, -0.4), (0.119, -0.8), (0.126, -0.4), (0.131, 2.5), (0.142, -3.3),
      (0.150, 0.3), (0.156, -4.0), (0.1667, -1.1), (0.174, -4.0), (0.181, -5.4), (0.189, -6.8), (0.1995, 0.3),
      (0.207, -6.1), (0.227, -7.6), (0.241, -6.1), (0.25, -4.3), (0.263, -8.3), (0.288, -6.1), (0.306, -7.6),
      (0.3162, 0.3), (0.325, -9.0), (0.35, -6.1), (0.366, -9.0), (0.389, -10.4), (0.4007, -4.0), (0.413, -12.6),
      (0.439, -13.3), (0.473, -13.3), (0.4981, -13.0), (0.5005, -4.7), (0.5172, -12.6), (0.533, -11.1),
      (0.557, -13.3), (0.592, -12.6), (0.628, -11.9), (0.667, -14.7), (0.753, -14.0), (0.823, -16.2),
      (0.928, -16.9), (0.989, -17.6), (1.10, -18.0), (1.115, -14.7), (1.13, -18.3), (1.276, -17.2), (1.335, -18.7),
      (1.45, -18.7), (1.551, -19.4), (1.803, -18.3), (2.032, -17.2), (2.094, -19.0), (2.433, -19.4),
      (2.828, -19.4), (3.5, -19.0), (4.433, -19.0), (5.15, -17.6), (5.98, -16.5), (6.847, -14.7), (7.16, -11.5),
      (7.38, -9.7), (7.86, -9.9), (8.08, -12.2), (8.45, -13.7), (10.0, -14.4)]

# 2.7-5 kHz 的谐波尖峰 (高出曲线的 dB)
comb_f = [2.7, 2.8, 2.9, 3.0, 3.1, 3.2, 3.3, 3.4, 3.5, 3.6, 3.7, 3.8,
          3.9, 4.0, 4.1, 4.2, 4.3, 4.4, 4.5, 4.6, 4.7, 4.8, 4.9, 5.0]
comb_r1 = [2.8, 3.0, 3.3, 3.6, 3.9, 4.2, 4.5, 4.8, 5.1, 5.4, 5.7, 6.0, 6.2, 6.4, 6.4, 6.3, 6.0, 5.6, 5.2, 4.8, 4.4, 4.0, 3.5, 3.0]
comb_r2 = [2.5, 2.8, 3.1, 3.4, 3.7, 4.0, 4.3, 4.6, 4.9, 5.2, 5.5, 5.8, 6.1, 6.3, 6.5, 6.4, 6.2, 5.9, 5.5, 5.1, 4.6, 4.0, 3.3, 2.7]
comb_r3 = [2.5, 2.8, 3.1, 3.4, 3.7, 3.9, 4.2, 4.5, 4.8, 5.1, 5.4, 5.7, 6.0, 6.2, 6.4, 6.3, 6.0, 5.7, 5.3, 4.9, 4.6, 4.2, 3.8, 3.4]
comb_r4 = [0, 0, 0, 2.0, 3.0, 3.5, 4.0, 4.5, 4.5, 5.0, 5.0, 5.0, 5.5, 5.5, 5.5, 5.5, 5.0, 5.0, 4.5, 4.0, 4.0, 3.0, 2.5, 2.0]
comb_r5 = [0, 0, 0, 0, 0, 0, 0, 0, 0, 0, 0, 2.0, 4.5, 4.5, 4.5, 4.5, 4.0, 4.0, 3.5, 3.0, 3.0, 2.5, 2.0, 1.5]
comb_k1 = [3.5, 4.0, 4.5, 5.0, 5.3, 5.6, 5.9, 6.2, 6.4, 6.6, 6.8, 0, 0, 0, 0, 0, 0, 0, 0, 0, 0, 0, 0, 0]
comb_k2 = [3.0, 3.5, 4.0, 4.5, 4.8, 5.0, 5.3, 5.5, 5.8, 6.0, 6.2, 0, 0, 0, 0, 0, 0, 0, 0, 0, 0, 0, 0, 0]
comb_k3 = [2.5, 3.0, 3.5, 4.0, 4.3, 4.5, 4.8, 5.0, 5.2, 0, 0, 0, 0, 0, 0, 0, 0, 0, 0, 0, 0, 0, 0, 0]

colors = {"black": "#000000", "blue": "#15298e", "red": "#a51431"}
curves = {
    "black": [k1, k2, k3, k4, k5, k6, k7, k8, k9, k10],
    "blue": [b1, b2, b3, b4, b5, b6, b7, b8, b9, b10],
    "red": [r1, r2, r3, r4, r5, r6, r7, r8, r9, r10],
}
combs = [("black", k1, comb_k1), ("black", k2, comb_k2), ("black", k3, comb_k3),
         ("red", r1, comb_r1), ("red", r2, comb_r2), ("red", r3, comb_r3),
         ("red", r4, comb_r4), ("red", r5, comb_r5)]

rows = []
for s, lst in curves.items():
    for g, pts in enumerate(lst, start=1):
        for f, v in pts:
            rows.append((s, g, f, v))
df = pd.DataFrame(rows, columns=["series", "group", "f", "spl"])

sns.set_theme(style="ticks")
plt.rcParams["font.family"] = ["DejaVu Sans"]
plt.rcParams["font.stretch"] = "condensed"
plt.rcParams["lines.linewidth"] = 3.2
txt = "#262626"
lw = 3.2

fig = plt.figure(figsize=(16.5, 19.47), dpi=100)
ax = fig.add_axes([0.1309, 0.0801, 0.7721, 0.8957])
ax.set_xscale("log")

sns.lineplot(data=df, x="f", y="spl", hue="series", units="group", estimator=None,
             hue_order=["black", "blue", "red"], palette=colors, linewidth=lw,
             legend=False, ax=ax)
for ln in ax.lines:
    ln.set_linewidth(lw)
    ln.set_solid_joinstyle("round")

# 梳状尖峰
for s, pts, h in combs:
    f0 = np.array([p[0] for p in pts])
    v0 = np.array([p[1] for p in pts])
    cf = np.array(comb_f)
    hh = np.array(h, dtype=float)
    base = np.interp(np.log10(cf), np.log10(f0), v0)
    m = hh > 0
    ax.vlines(cf[m], base[m], base[m] + hh[m], colors=colors[s], linewidth=2.8,
              zorder=1.9 if s == "black" else 2.2)

ax.set_xlim(0.1, 10)
ax.set_ylim(-25, 350)
ax.set_yticks(np.arange(0, 351, 50))
ax.set_xticks([0.1, 1, 10])
ax.set_xticklabels(["0.1", "1", "10"])
ax.xaxis.set_minor_locator(LogLocator(base=10, subs=(2, 3, 4, 5, 6, 7, 8, 9)))
ax.xaxis.set_minor_formatter(NullFormatter())

ax.tick_params(which="both", direction="in", top=True, right=True, color=txt)
ax.tick_params(which="major", length=14, width=2.0, labelsize=35, labelcolor=txt)
ax.tick_params(axis="y", which="major", pad=15)
ax.tick_params(axis="x", which="major", pad=16)
ax.tick_params(which="minor", length=7, width=1.6)
for sp in ax.spines.values():
    sp.set_linewidth(2.2)
    sp.set_color(txt)

ax.set_xlabel("f (kHz)", fontsize=35, color=txt)
ax.set_ylabel("SPL (dB)", fontsize=35, color=txt)
ax.xaxis.set_label_coords(0.5, -0.0608)
ax.yaxis.set_label_coords(-0.0997, 0.5)

fig.savefig("out.png", dpi=100)
